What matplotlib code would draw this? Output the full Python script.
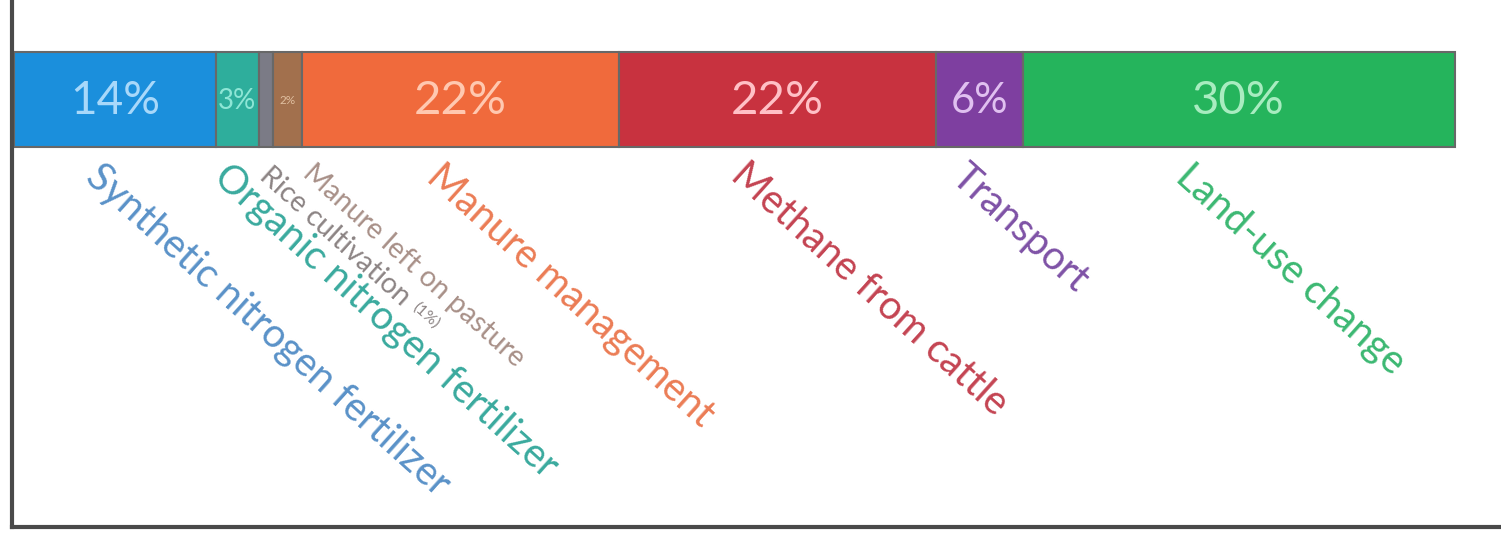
import matplotlib
matplotlib.use("Agg")
from matplotlib import pyplot as plt
from matplotlib import transforms
import math

# Data
shares = [14, 3, 1, 2, 22, 22, 6, 30]
bar_texts = ["14%", "3%", "", "2%", "22%", "22%", "6%", "30%"]
names = ["Synthetic nitrogen fertilizer", "Organic nitrogen fertilizer",
         "Rice cultivation", "Manure left on pasture", "Manure management",
         "Methane from cattle", "Transport", "Land-use change"]

# Styles
seg_colors = ["#1b8fdc", "#2eae9c", "#7b7b86", "#a2704d", "#f06a3c",
              "#c8323f", "#7e3fa0", "#25b45c"]
pct_colors = ["#a8d8fa", "#8ee6d6", "#ffffff", "#e0bfa0", "#ffc8b0",
              "#ffc0c6", "#e0c0f0", "#a8ecc0"]
pct_sizes = [33, 20, 1, 8.5, 34, 34, 30, 34]
name_colors = ["#5a92c8", "#3aaa9e", "#8c8484", "#a89088", "#eb7c55",
               "#c44452", "#7e52a6", "#3cb872"]
name_sizes = [28.5, 28.5, 20.5, 20.5, 28.5, 28.5, 28.5, 28.5]
name_x = [6.2, 15.1, 17.9, 20.9, 29.9, 51.0, 66.3, 81.9]
name_y = [158, 158, 162, 160, 158, 156, 158, 158]

plt.rcParams['font.family'] = ['Lato', 'DejaVu Sans']

fig = plt.figure(figsize=(15.01, 5.34), dpi=100)
ax = fig.add_axes([12 / 1501, 7 / 534, 1 - 12 / 1501, 527 / 534])
ax.set_xlim(-0.14, 103.2)
ax.set_ylim(527, 0)

lefts = [sum(shares[:i]) for i in range(len(shares))]
ax.barh(99.5, shares, left=lefts, height=95, color=seg_colors,
        edgecolor="#686868", linewidth=1.5)

for l, w, t, c, s in zip(lefts, shares, bar_texts, pct_colors, pct_sizes):
    if t:
        ax.text(l + w / 2, 101, t, ha="center", va="center", color=c,
                fontsize=s)

rot = -42
for n, c, s, x, y in zip(names, name_colors, name_sizes, name_x, name_y):
    t = ax.text(x, y, n, color=c, fontsize=s,
                rotation=rot, rotation_mode="anchor", ha="left", va="top")
    if n == "Rice cultivation":
        # small "(1%)" continuing along the rotated baseline
        fig.canvas.draw()
        t.set_rotation(0)
        w = t.get_window_extent(fig.canvas.get_renderer()).width * 72 / fig.dpi
        t.set_rotation(rot)
        dx = (w + 4) * math.cos(math.radians(rot))
        dy = (w + 4) * math.sin(math.radians(rot))
        tr = transforms.offset_copy(ax.transData, fig=fig, x=dx, y=dy, units="points")
        ax.text(x, y + 5, "(1%)", color=c, fontsize=11.5,
                rotation=rot, rotation_mode="anchor", ha="left", va="top",
                transform=tr)

for side in ["top", "right"]:
    ax.spines[side].set_visible(False)
ax.spines["left"].set_linewidth(3)
ax.spines["bottom"].set_linewidth(3)
ax.spines["left"].set_color("#4a4a4a")
ax.spines["bottom"].set_color("#4a4a4a")
ax.set_xticks([])
ax.set_yticks([])

fig.savefig("out.png", dpi=100)
